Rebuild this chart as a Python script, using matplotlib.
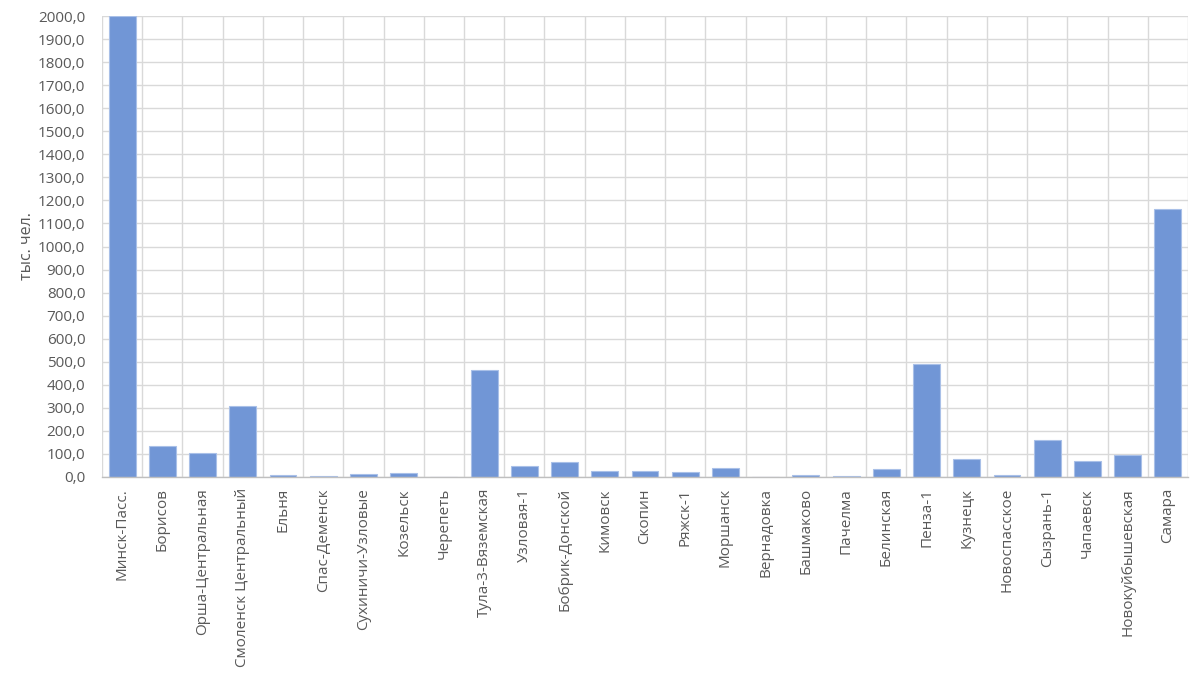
import matplotlib
matplotlib.use("Agg")
import matplotlib.pyplot as plt
from matplotlib.ticker import FuncFormatter, MultipleLocator

stations = ["Минск-Пасс.", "Борисов", "Орша-Центральная", "Смоленск Центральный", "Ельня",
            "Спас-Деменск", "Сухиничи-Узловые", "Козельск", "Черепеть", "Тула-3-Вяземская",
            "Узловая-1", "Бобрик-Донской", "Кимовск", "Скопин", "Ряжск-1", "Моршанск",
            "Вернадовка", "Башмаково", "Пачелма", "Белинская", "Пенза-1", "Кузнецк",
            "Новоспасское", "Сызрань-1", "Чапаевск", "Новокуйбышевская", "Самара"]
values = [2000, 135, 102, 309, 9,
          4, 14, 17, 1, 465,
          49, 65, 27, 26, 22, 39,
          1, 9, 6, 33, 491, 78,
          10, 162, 69, 95, 1161]

plt.rcParams['font.family'] = ['Open Sans', 'DejaVu Sans']

fig = plt.figure(figsize=(12, 6.74), dpi=100)
ax = fig.add_axes([102/1200, 1-477/674, (1188-102)/1200, (477-16)/674])

x = list(range(len(stations)))
ax.bar(x, values, width=0.67, color='#7196D6', edgecolor='#A9C0E8', linewidth=0.8, zorder=3)

ax.set_xlim(-0.5, len(stations)-0.5)
ax.set_ylim(0, 2000)
ax.yaxis.set_major_locator(MultipleLocator(100))
ax.yaxis.set_major_formatter(FuncFormatter(lambda v, p: f"{v:.1f}".replace('.', ',')))
ax.grid(axis='y', color='#D9D9D9', linewidth=1, zorder=0)
for b in range(len(stations)+1):
    ax.axvline(b-0.5, color='#D9D9D9', linewidth=1, zorder=0)

ax.set_xticks(x)
ax.set_xticklabels(stations, rotation=90, fontsize=11, color='#595959')
ax.tick_params(axis='both', length=0, colors='#595959', labelsize=11)
ax.tick_params(axis='x', pad=8)
ax.tick_params(axis='y', pad=12)
for s in ['top', 'right', 'left']:
    ax.spines[s].set_visible(False)
ax.spines['bottom'].set_color('#BFBFBF')
ax.spines['bottom'].set_linewidth(1)
ax.spines['bottom'].set_zorder(4)

fig.text(27/1200, 1-246/674, "тыс. чел.", rotation=90, ha='center', va='center',
         fontsize=11.5, color='#595959')

fig.savefig("out.png", dpi=100, facecolor='white')
